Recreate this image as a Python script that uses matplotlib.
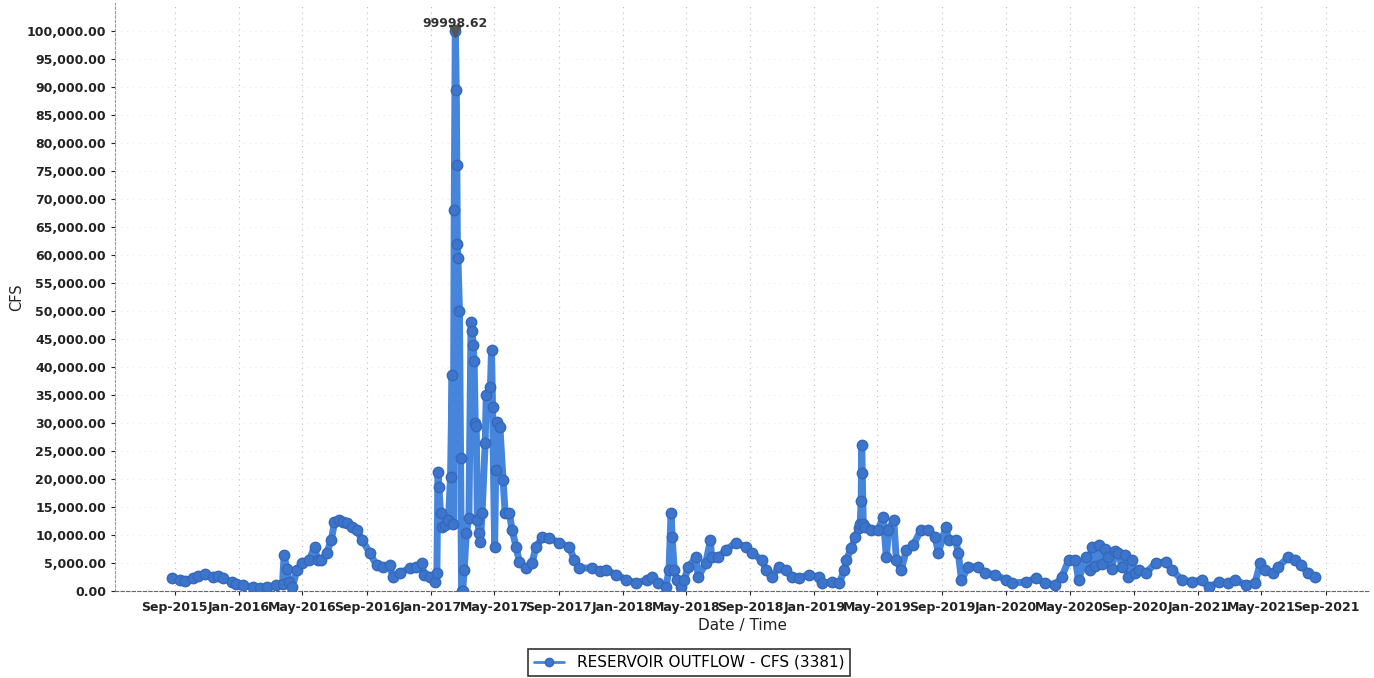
import matplotlib
matplotlib.use("Agg")
import matplotlib.pyplot as plt
import matplotlib.dates as mdates
import matplotlib.ticker as mticker
import pandas as pd

# reservoir outflow (cfs)
dates_2015 = ["2015-08-27", "2015-09-10", "2015-09-21", "2015-10-05", "2015-10-16",
              "2015-10-28", "2015-11-12", "2015-11-22", "2015-12-01", "2015-12-18",
              "2015-12-27"]
flow_2015 = [2300, 2000, 1800, 2300, 2600, 3000, 2500, 2700, 2300, 1600, 1200]

dates_2016 = ["2016-01-08", "2016-01-27", "2016-02-10", "2016-02-23", "2016-03-12",
              "2016-03-24", "2016-03-27", "2016-04-01", "2016-04-06", "2016-04-12",
              "2016-04-20", "2016-05-01", "2016-05-14", "2016-05-24", "2016-05-30",
              "2016-06-06", "2016-06-16", "2016-06-25", "2016-07-01", "2016-07-10",
              "2016-07-18", "2016-07-25", "2016-08-04", "2016-08-12", "2016-08-23",
              "2016-09-06", "2016-09-19", "2016-10-01", "2016-10-14", "2016-10-20",
              "2016-11-02", "2016-11-21", "2016-12-04", "2016-12-14", "2016-12-19",
              "2016-12-29"]
flow_2016 = [1000, 700, 600, 700, 1000, 1200, 6400, 4000, 1600, 700,
             3700, 5000, 5500, 7900, 5500, 5500, 6800, 9100, 12300, 12600,
             12400, 12100, 11500, 10900, 9100, 6800, 4600, 4300, 4600, 2500,
             3200, 4100, 4300, 5000, 2900, 2500]

dates_2017 = ["2017-01-08", "2017-01-12", "2017-01-14", "2017-01-16", "2017-01-19",
              "2017-01-22", "2017-01-28", "2017-02-03", "2017-02-07", "2017-02-10",
              "2017-02-12", "2017-02-14", "2017-02-16", "2017-02-18", "2017-02-19",
              "2017-02-20", "2017-02-21", "2017-02-24", "2017-02-26", "2017-02-28",
              "2017-03-02", "2017-03-05", "2017-03-09", "2017-03-14", "2017-03-18",
              "2017-03-20", "2017-03-22", "2017-03-24", "2017-03-26", "2017-03-28",
              "2017-03-30", "2017-04-03", "2017-04-05", "2017-04-08", "2017-04-14",
              "2017-04-16", "2017-04-24", "2017-04-26", "2017-04-28", "2017-05-02",
              "2017-05-04", "2017-05-07", "2017-05-12", "2017-05-18", "2017-05-22",
              "2017-05-30", "2017-06-04", "2017-06-12", "2017-06-18", "2017-07-01",
              "2017-07-12", "2017-07-20", "2017-08-01", "2017-08-14", "2017-09-02",
              "2017-09-21", "2017-10-01", "2017-10-10", "2017-11-04", "2017-11-18",
              "2017-12-01", "2017-12-20"]
flow_2017 = [1600, 3200, 21300, 18600, 13900, 11400, 11800, 12700, 20400, 38600,
             12000, 68000, 99998.62, 89500, 76000, 62000, 59500, 50000, 23700, 0,
             0, 3700, 10400, 13000, 48000, 46500, 44000, 41000, 30000, 29500,
             12700, 10400, 8800, 14000, 26400, 35000, 36400, 43000, 32900, 7900,
             21600, 30200, 29300, 19800, 14000, 14000, 10900, 7900, 5200, 4100,
             5000, 7900, 9600, 9500, 8600, 7900, 5500, 4100, 4100, 3500,
             3700, 2900]

dates_2018 = ["2018-01-08", "2018-01-27", "2018-02-16", "2018-02-26", "2018-03-10",
              "2018-03-24", "2018-03-30", "2018-04-03", "2018-04-05", "2018-04-09",
              "2018-04-14", "2018-04-22", "2018-04-28", "2018-05-06", "2018-05-20",
              "2018-05-25", "2018-06-08", "2018-06-17", "2018-06-19", "2018-07-02",
              "2018-07-16", "2018-08-04", "2018-08-23", "2018-09-04", "2018-09-23",
              "2018-10-01", "2018-10-12", "2018-10-25", "2018-11-08", "2018-11-20",
              "2018-12-03", "2018-12-21"]
flow_2018 = [2000, 1400, 2000, 2500, 1400, 700, 3700, 14000, 9600, 3700,
             2000, 700, 2000, 4300, 6000, 2500, 5000, 9100, 6000, 6000,
             7300, 8600, 7900, 6800, 5500, 3700, 2500, 4300, 3700, 2500,
             2300, 2900]

dates_2019 = ["2019-01-10", "2019-01-16", "2019-02-04", "2019-02-17", "2019-02-27",
              "2019-03-03", "2019-03-12", "2019-03-20", "2019-03-26", "2019-03-29",
              "2019-03-31", "2019-04-01", "2019-04-02", "2019-04-04", "2019-04-08",
              "2019-04-19", "2019-05-02", "2019-05-12", "2019-05-18", "2019-05-22",
              "2019-06-01", "2019-06-06", "2019-06-15", "2019-06-25", "2019-07-08",
              "2019-07-23", "2019-08-06", "2019-08-19", "2019-08-25", "2019-09-08",
              "2019-09-14", "2019-09-27", "2019-10-02", "2019-10-08", "2019-10-21",
              "2019-11-09", "2019-11-22", "2019-12-11"]
flow_2019 = [2500, 1400, 1600, 1400, 3700, 5500, 7700, 9600, 11300, 12000,
             16000, 26000, 21000, 12000, 11400, 10900, 10900, 13200, 6000, 10900,
             12700, 5500, 3700, 7300, 8200, 10900, 10900, 9600, 6800, 11400,
             9100, 9100, 6800, 2000, 4300, 4300, 3200, 2900]

dates_2020 = ["2020-01-01", "2020-01-12", "2020-02-08", "2020-02-27", "2020-03-16",
              "2020-04-04", "2020-04-16", "2020-04-29", "2020-05-12", "2020-05-18",
              "2020-06-01", "2020-06-08", "2020-06-12", "2020-06-18", "2020-06-25",
              "2020-07-02", "2020-07-08", "2020-07-14", "2020-07-20", "2020-07-27",
              "2020-08-02", "2020-08-09", "2020-08-15", "2020-08-21", "2020-08-27",
              "2020-09-03", "2020-09-10", "2020-09-23", "2020-10-12", "2020-11-01",
              "2020-11-12", "2020-12-01", "2020-12-20"]
flow_2020 = [2000, 1400, 1600, 2300, 1400, 1100, 2500, 5500, 5500, 2000,
             6000, 3800, 7900, 4500, 8200, 4800, 7500, 6000, 3900, 7200,
             6800, 4200, 6500, 2500, 5500, 3200, 3700, 3200, 5000, 5200,
             3700, 2000, 1600]

dates_2021 = ["2021-01-08", "2021-01-21", "2021-02-09", "2021-02-27", "2021-03-12",
              "2021-04-01", "2021-04-19", "2021-04-29", "2021-05-08", "2021-05-23",
              "2021-06-02", "2021-06-21", "2021-07-04", "2021-07-16", "2021-07-29",
              "2021-08-11"]
flow_2021 = [2000, 700, 1600, 1400, 2000, 1100, 1400, 5000, 3700, 3200,
             4300, 6000, 5500, 4600, 3200, 2500]

y_ticks = list(range(0, 100001, 5000))
peak_label = "99998.62"
series_name = "RESERVOIR OUTFLOW - CFS (3381)"

dates = pd.to_datetime(dates_2015 + dates_2016 + dates_2017 + dates_2018
                       + dates_2019 + dates_2020 + dates_2021)
flow = flow_2015 + flow_2016 + flow_2017 + flow_2018 + flow_2019 + flow_2020 + flow_2021
df = pd.DataFrame({"date": dates, "flow": flow})

fig = plt.figure(figsize=(13.74, 6.78), dpi=100)
ax = fig.add_axes([115 / 1374, 1 - 591 / 678, (1370 - 115) / 1374, (591 - 3) / 678])

ax.plot(df["date"], df["flow"], color="#4585dc", lw=5, marker="o", ms=7.5,
        mfc="#3d75cc", mec="#3468bb", mew=1, label=series_name, zorder=3,
        solid_joinstyle="round", solid_capstyle="round")

# peak marker + label
ipk = df["flow"].idxmax()
ax.plot(df["date"][ipk], df["flow"][ipk], marker="v", ms=8, color="#555555", zorder=4)
ax.annotate(peak_label, (df["date"][ipk], df["flow"][ipk]), xytext=(0, 1),
            textcoords="offset points", ha="center", va="bottom",
            fontsize=9, fontweight="bold", color="#333333", zorder=5)

ax.set_xlim(pd.Timestamp("2015-05-10"), pd.Timestamp("2021-11-24"))
ax.set_ylim(0, 105000)

ax.yaxis.set_major_locator(mticker.FixedLocator(y_ticks))
ax.yaxis.set_major_formatter(mticker.FuncFormatter(lambda v, p: f"{v:,.2f}"))
ax.xaxis.set_major_locator(mdates.MonthLocator(bymonth=[1, 5, 9]))
ax.xaxis.set_major_formatter(mdates.DateFormatter("%b-%Y"))

for lab in ax.get_xticklabels() + ax.get_yticklabels():
    lab.set_fontweight("bold")
ax.tick_params(labelsize=9, colors="#222222", length=3, width=0.8)
ax.tick_params(axis="x", pad=4)

ax.grid(True, axis="x", color="#bdbdbd", ls=(0, (1, 4)), lw=0.8)
ax.grid(True, axis="y", color="#e2e2e2", ls=(0, (1, 6)), lw=0.6)
for s in ["top", "right"]:
    ax.spines[s].set_visible(False)
ax.spines["left"].set_linestyle((0, (2, 2)))
ax.spines["left"].set_color("#999999")
ax.spines["bottom"].set_linestyle((0, (3, 2)))
ax.spines["bottom"].set_color("#666666")

ax.set_ylabel("CFS", fontsize=10.5, color="#222222", labelpad=2)
ax.set_xlabel("Date / Time", fontsize=11, color="#222222", labelpad=3)

leg = fig.legend(loc="lower center", bbox_to_anchor=(689 / 1374, 2 / 678),
                 borderaxespad=0, fontsize=11, frameon=True, fancybox=False,
                 edgecolor="black", handlelength=2.0, borderpad=0.4)
leg.get_frame().set_linewidth(1.2)
for ln in leg.get_lines():
    ln.set_linewidth(2)
    ln.set_markersize(6)

fig.savefig("out.png", dpi=100)
